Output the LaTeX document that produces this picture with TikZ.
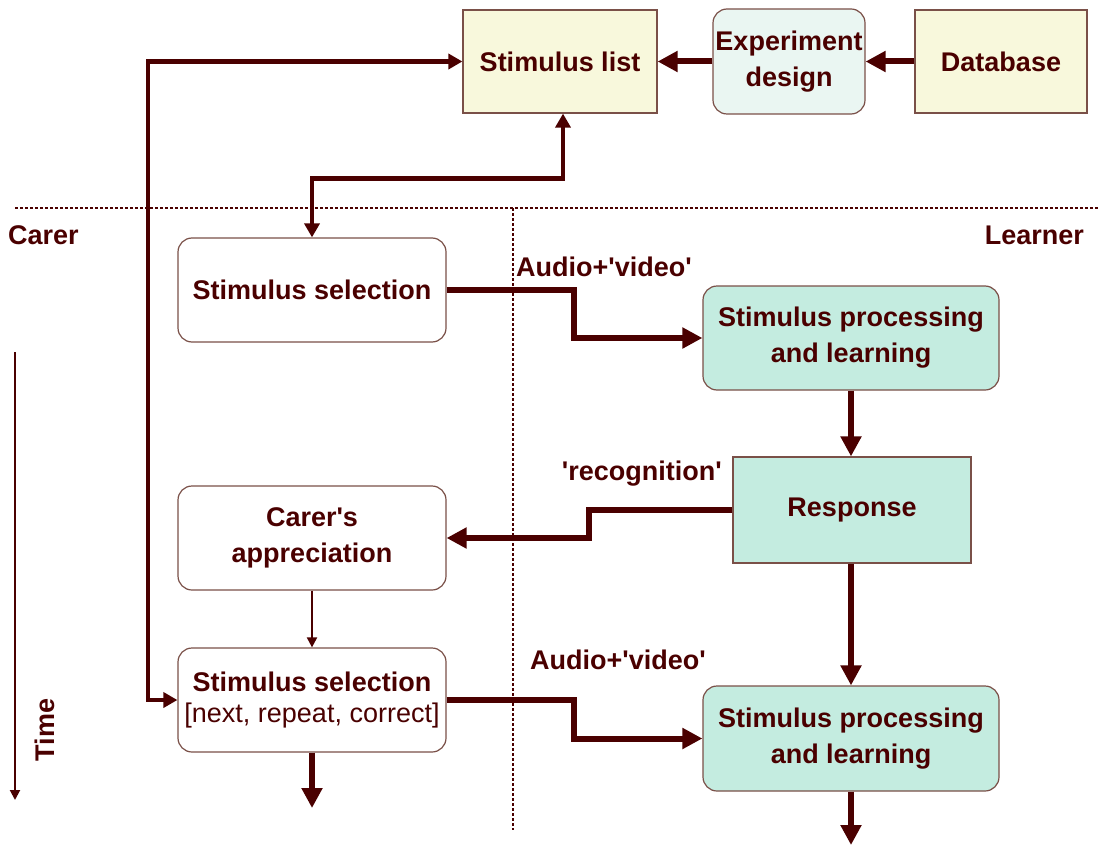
\documentclass[tikz,border=0pt]{standalone}
\usepackage{fontspec}
\setmainfont{Liberation Sans}
\usetikzlibrary{arrows.meta}
\definecolor{ink}{HTML}{4A0000}
\definecolor{frame}{HTML}{7A5048}
\definecolor{yel}{HTML}{F8F8DC}
\definecolor{pale}{HTML}{EAF6F2}
\definecolor{mint}{HTML}{C4ECE0}
\begin{document}
\begin{tikzpicture}[x=1pt,y=-1pt,
  font=\fontsize{27}{36}\selectfont\bfseries, text=ink,
  box/.style={draw=frame, line width=1.2pt, align=center, inner sep=0pt},
  rbox/.style={box, rounded corners=14pt},
  bigarrow/.style={draw=ink, line width=6pt, -{Triangle[length=20pt,width=20pt]}},
  medarrow/.style={draw=ink, line width=4.5pt, {Triangle[length=14pt,width=15pt]}-{Triangle[length=14pt,width=15pt]}},
  thinarrow/.style={draw=ink, line width=2pt, -{Triangle[length=10pt,width=10pt]}},
  divider/.style={draw=ink, line width=2.5pt, dash pattern=on 2.5pt off 2.5pt},
  lbl/.style={inner sep=0pt}]
\useasboundingbox (0,0) rectangle (1099,845);

% top row
\node[box, fill=yel, minimum width=194pt, minimum height=103pt] (list) at (560,61.5) {Stimulus list};
\node[rbox, fill=pale, minimum width=152pt, minimum height=105pt] (exp) at (789,61.5) {Experiment\\design};
\node[box, fill=yel, minimum width=172pt, minimum height=103pt] (db) at (1001,61.5) {Database};

% dividers
\coordinate (hl) at (15,208);
\coordinate (hr) at (1099,208);
\coordinate (vt) at (513,208);
\coordinate (vb) at (513,830);
\draw[divider] (hl) -- (hr);
\draw[divider] (vt) -- (vb);

\node[lbl, anchor=west] (carer) at (8,235) {Carer};
\node[lbl, anchor=east] (learner) at (1084,235) {Learner};

% carer column
\node[rbox, fill=white, minimum width=268pt, minimum height=104pt] (ss1) at (312,290) {Stimulus selection};
\node[rbox, fill=white, minimum width=268pt, minimum height=104pt] (app) at (312,538) {Carer\textquotesingle s\\appreciation};
\node[rbox, fill=white, minimum width=268pt, minimum height=104pt] (ss2) at (312,700) {Stimulus selection\\[-5pt]{\mdseries [next, repeat, correct]}};

% learner column
\node[rbox, fill=mint, minimum width=296pt, minimum height=104pt] (proc1) at (851,338) {Stimulus processing\\and learning};
\node[box, fill=mint, minimum width=238pt, minimum height=106pt] (resp) at (852,510) {Response};
\node[rbox, fill=mint, minimum width=296pt, minimum height=105pt] (proc2) at (851,738.5) {Stimulus processing\\and learning};

% labels
\node[lbl, anchor=west] (av1) at (516,267) {Audio+\textquotesingle video\textquotesingle};
\node[lbl, anchor=east] (rec) at (722,474) {\textquotesingle recognition\textquotesingle};
\node[lbl, anchor=west] (av2) at (530,660) {Audio+\textquotesingle video\textquotesingle};

% time axis
\coordinate (t0) at (15,352);
\coordinate (t1) at (15,800);
\draw[thinarrow] (t0) -- (t1);
\node[lbl, rotate=90] (time) at (45,730) {Time};

% connectors
\draw[bigarrow] (db.west) -- (exp.east);
\draw[bigarrow] (exp.west) -- (list.east);
\coordinate (loop) at (148,61.5);
\draw[medarrow] (list.west) -- (loop) |- (ss2.west);
\draw[medarrow] ([xshift=3pt]list.south) -- ++(0,65) -| (ss1.north);
\draw[bigarrow] (ss1.east) -- ++(127,0) |- (proc1.west);
\draw[bigarrow] (proc1.south) -- (proc1.south |- resp.north);
\draw[bigarrow] (resp.west) -- ++(-143,0) |- (app.east);
\draw[thinarrow] (app.south) -- (ss2.north);
\draw[bigarrow] (resp.south -| proc2.north) -- (proc2.north);
\draw[bigarrow] (ss2.east) -- ++(127,0) |- (proc2.west);
\coordinate (ssend) at (312,808);
\draw[bigarrow] (ss2.south) -- (ssend);
\coordinate (procend) at (851,845);
\draw[bigarrow] (proc2.south) -- (procend);
\end{tikzpicture}
\end{document}
